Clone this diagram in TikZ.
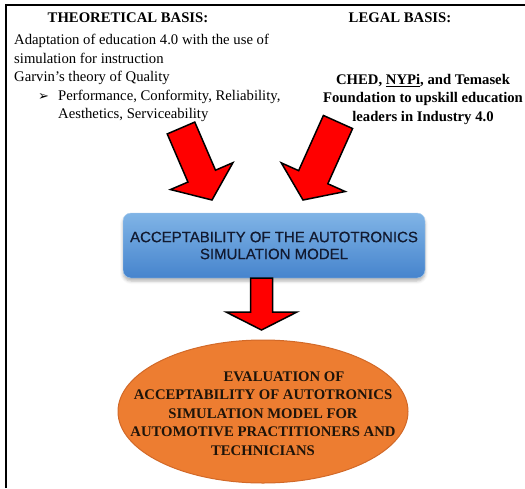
\documentclass[tikz,border=0pt]{standalone}
\usepackage{fontspec}
\setmainfont{Liberation Serif}
\newfontfamily\boxfont[FakeBold=0.6]{Liberation Sans}
\newfontfamily\symfont{DejaVu Sans}
\usetikzlibrary{calc,shadows.blur}

\definecolor{arrowred}{RGB}{255,0,0}
\definecolor{boxtop}{RGB}{128,180,230}
\definecolor{boxbottom}{RGB}{70,132,205}
\definecolor{boxtext}{RGB}{18,26,48}
\definecolor{evalorange}{RGB}{237,125,49}
\definecolor{evaledge}{RGB}{210,105,40}

\tikzset{
  frame/.style={line width=2pt},
  txt/.style={inner sep=0pt, font=\fontsize{14.7}{18.5}\selectfont},
  heading/.style={inner sep=0pt, anchor=base, font=\fontsize{14.7}{18.5}\selectfont\bfseries},
  arrowline/.style={fill=arrowred, draw=black, line width=1.5pt, line join=miter},
  simbox/.style={rounded corners=8pt, top color=boxtop, bottom color=boxbottom, draw=boxtop!70!white,
    minimum width=302pt, minimum height=65pt, align=center, text=boxtext,
    font=\boxfont\fontsize{15}{17}\selectfont,
    blur shadow={shadow xshift=0pt, shadow yshift=-3pt, shadow blur radius=3pt, shadow opacity=30}},
  evalshape/.style={fill=evalorange, draw=evaledge, line width=1pt}
}

% block arrow: tail, tip, half shaft, half head, head length
\newcommand{\redarrow}[5]{%
  \coordinate (neck) at ($(#2)!#5!(#1)$);
  \draw[arrowline] ($(#1)!#3!90:(#2)$) -- ($(neck)!#3!90:(#2)$) -- ($(neck)!#4!90:(#2)$)
    -- (#2) -- ($(neck)!#4!-90:(#2)$) -- ($(neck)!#3!-90:(#2)$) -- ($(#1)!#3!-90:(#2)$) -- cycle;
}

\begin{document}
\begin{tikzpicture}[x=1pt,y=-1pt]
\useasboundingbox (0,0) rectangle (525,488);
\draw[frame] (6,488) -- (6,5) -- (525,5);

% top texts
\node[heading] (theory) at (128,22) {THEORETICAL BASIS:};
\node[heading] (legal) at (400,22) {LEGAL BASIS:};
\node[txt, anchor=north west, align=left] (theorytext) at (14,34) {Adaptation of education 4.0 with the use of\\
  simulation for instruction\\
  Garvin’s theory of Quality\\
  \hspace*{24pt}\makebox[20pt][l]{\symfont\fontsize{13}{13}\selectfont ➢}Performance, Conformity, Reliability,\\
  \hspace*{44pt}Aesthetics, Serviceability};
\node[txt, anchor=north, align=center, font=\fontsize{14.7}{18.5}\selectfont\bfseries] (legaltext) at (423,74)
  {CHED, \underline{NYPi}, and Temasek\\ Foundation to upskill education\\ leaders in Industry 4.0};

% arrows into the model
\coordinate (ltail) at (181,128);
\coordinate (ltip) at (212,200);
\coordinate (rtail) at (338,122);
\coordinate (rtip) at (303,200);
\redarrow{ltail}{ltip}{15pt}{34pt}{26pt}
\redarrow{rtail}{rtip}{16pt}{35pt}{25pt}

% model box
\node[simbox] (model) at (274,245.5) {ACCEPTABILITY OF THE AUTOTRONICS\\SIMULATION MODEL};

% arrow down
\coordinate (dtail) at (261.5,278);
\coordinate (dtip) at (261.5,330);
\redarrow{dtail}{dtip}{11pt}{35.5pt}{18pt}

% evaluation
\draw[evalshape] (263,411.5) ellipse [x radius=145, y radius=71.5];
\node[txt, align=center, font=\fontsize{14.7}{18.5}\selectfont\bfseries, text={rgb,255:red,30;green,20;blue,10}] (eval) at (263,413.5)
  {\hspace*{42pt}EVALUATION OF\\ ACCEPTABILITY OF AUTOTRONICS\\ SIMULATION MODEL FOR\\ AUTOMOTIVE PRACTITIONERS AND\\ TECHNICIANS};
\end{tikzpicture}
\end{document}
